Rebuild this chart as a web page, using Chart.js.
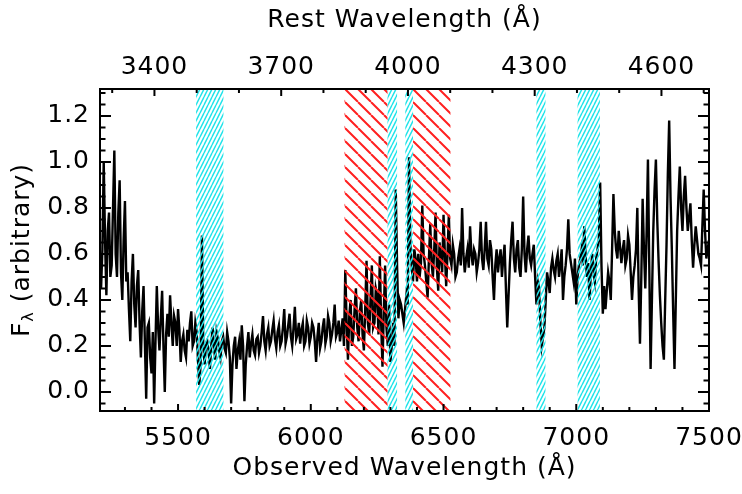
<!DOCTYPE html>
<html>
<head>
<meta charset="utf-8">
<script src="https://cdn.jsdelivr.net/npm/chart.js@4.4.1/dist/chart.umd.min.js"></script>
<style>
  html, body { margin: 0; padding: 0; background: #fff; }
</style>
</head>
<body>
<canvas id="spec" width="742" height="494"></canvas>
<script>
// observed-frame spectrum on a 5 A grid starting at 5210 A
const waveStart = 5210;
const waveStep = 5;
const flux = [
  0.45, 0.62, 1.00, 0.66, 0.42, 0.70, 0.78, 0.50, 0.55, 0.80, 1.05, 0.60, 0.50, 0.78, 0.92, 0.52, 0.40, 0.66, 0.83, 0.48,
  0.52, 0.36, 0.22, 0.48, 0.60, 0.38, 0.28, 0.46, 0.53, 0.30, 0.15, 0.35, 0.46, 0.22, -0.03, 0.28, 0.30, 0.15, 0.08, 0.26,
  -0.05, 0.22, 0.46, 0.28, 0.18, 0.32, 0.44, 0.20, 0.00, 0.25, 0.34, 0.24, 0.42, 0.30, 0.20, 0.33, 0.30, 0.20, 0.36, 0.27,
  0.13, 0.22, 0.25, 0.18, 0.15, 0.27, 0.22, 0.30, 0.35, 0.20, 0.22, 0.30, 0.26, 0.14, 0.03, 0.12, 0.68, 0.20, 0.12, 0.20,
  0.22, 0.18, 0.10, 0.20, 0.28, 0.20, 0.14, 0.26, 0.23, 0.18, 0.15, 0.22, 0.24, 0.19, 0.17, 0.26, 0.22, 0.15, -0.05, 0.12,
  0.20, 0.24, 0.10, 0.18, 0.22, 0.14, 0.29, 0.20, -0.04, 0.12, 0.20, 0.26, 0.15, 0.21, 0.25, 0.18, 0.16, 0.23, 0.24, 0.17,
  0.20, 0.26, 0.33, 0.22, 0.18, 0.25, 0.28, 0.20, 0.22, 0.27, 0.31, 0.23, 0.19, 0.26, 0.29, 0.20, 0.22, 0.28, 0.36, 0.21,
  0.24, 0.29, 0.34, 0.24, 0.20, 0.28, 0.37, 0.23, 0.25, 0.30, 0.21, 0.27, 0.30, 0.20, 0.22, 0.31, 0.28, 0.21, 0.24, 0.30,
  0.28, 0.22, 0.13, 0.24, 0.30, 0.19, 0.22, 0.28, 0.32, 0.21, 0.24, 0.33, 0.30, 0.22, 0.25, 0.30, 0.38, 0.24, 0.26, 0.31,
  0.22, 0.27, 0.32, 0.20, 0.53, 0.30, 0.14, 0.33, 0.40, 0.20, 0.24, 0.36, 0.45, 0.28, 0.22, 0.35, 0.40, 0.25, 0.18, 0.36,
  0.57, 0.30, 0.25, 0.40, 0.55, 0.28, 0.30, 0.45, 0.42, 0.25, 0.59, 0.30, 0.11, 0.35, 0.55, 0.28, 0.20, 0.38, 0.13, 0.20,
  0.30, 0.20, 0.88, 0.55, 0.32, 0.40, 0.38, 0.34, 0.30, 0.36, 0.42, 0.38, 1.02, 0.64, 0.55, 0.48, 0.62, 0.58, 0.48, 0.60,
  0.50, 0.56, 0.81, 0.60, 0.55, 0.48, 0.41, 0.58, 0.73, 0.56, 0.50, 0.62, 0.78, 0.54, 0.44, 0.65, 0.58, 0.52, 0.77, 0.60,
  0.46, 0.60, 0.77, 0.58, 0.55, 0.64, 0.60, 0.50, 0.52, 0.58, 0.62, 0.55, 0.80, 0.60, 0.52, 0.58, 0.62, 0.54, 0.72, 0.60,
  0.55, 0.62, 0.60, 0.52, 0.56, 0.62, 0.74, 0.58, 0.53, 0.62, 0.74, 0.58, 0.55, 0.66, 0.62, 0.50, 0.40, 0.55, 0.62, 0.52,
  0.58, 0.62, 0.50, 0.58, 0.64, 0.45, 0.28, 0.42, 0.56, 0.66, 0.74, 0.58, 0.52, 0.62, 0.66, 0.54, 0.50, 0.62, 0.85, 0.60,
  0.52, 0.62, 0.68, 0.58, 0.55, 0.60, 0.64, 0.50, 0.38, 0.48, 0.45, 0.30, 0.20, 0.24, 0.28, 0.40, 0.52, 0.48, 0.43, 0.54,
  0.58, 0.53, 0.50, 0.57, 0.60, 0.50, 0.55, 0.62, 0.40, 0.50, 0.55, 0.62, 0.75, 0.60, 0.56, 0.52, 0.48, 0.58, 0.38, 0.50,
  0.55, 0.58, 0.62, 0.55, 0.72, 0.60, 0.50, 0.56, 0.40, 0.52, 0.60, 0.52, 0.48, 0.58, 0.62, 0.66, 0.91, 0.55, 0.34, 0.46,
  0.36, 0.44, 0.52, 0.48, 0.40, 0.62, 0.86, 0.70, 0.62, 0.58, 0.70, 0.63, 0.56, 0.62, 0.66, 0.55, 0.58, 0.68, 0.64, 0.52,
  0.40, 0.50, 0.55, 0.62, 0.80, 0.45, 0.21, 0.50, 0.84, 0.62, 0.45, 0.70, 1.01, 0.55, 0.10, 0.40, 0.70, 0.88, 1.01, 0.75,
  0.57, 0.42, 0.30, 0.20, 0.14, 0.40, 0.64, 0.95, 1.18, 0.85, 0.62, 0.35, 0.10, 0.40, 0.70, 0.85, 0.98, 0.80, 0.70, 0.85,
  0.94, 0.80, 0.70, 0.76, 0.82, 0.66, 0.54, 0.64, 0.72, 0.66, 0.60, 0.58, 0.55, 0.72, 0.88, 0.70, 0.58, 0.62, 0.66
];

// masked regions (observed A)
const cyanBands = [[5568, 5671], [6289, 6325], [6356, 6385], [6850, 6884], [7005, 7089]];
const redBands = [[6127, 6289], [6385, 6526]];

const obsTicks = [5500, 6000, 6500, 7000, 7500];
const restTicks = [3400, 3700, 4000, 4300, 4600];
const fluxTicks = [0.0, 0.2, 0.4, 0.6, 0.8, 1.0, 1.2];

const onePlusZ = 1.5915;
const obsMin = 5206, obsMax = 7500;
const fluxMin = -0.083, fluxMax = 1.317;

const points = flux.map((f, i) => ({ x: waveStart + i * waveStep, y: f }));

const fontFamily = "'DejaVu Sans', sans-serif";
const fontSize = 25;
const font = { family: fontFamily, size: fontSize };

function makeTile(w, h, draw) {
  const c = document.createElement('canvas');
  c.width = w; c.height = h;
  draw(c.getContext('2d'), w, h);
  return c;
}

const redTile = makeTile(13, 13, (g, w, h) => {
  g.strokeStyle = '#ff2020';
  g.lineWidth = 2;
  g.beginPath();
  for (let k = -1; k <= 1; k++) {
    g.moveTo(k * w, 0);
    g.lineTo(k * w + w, h);
  }
  g.stroke();
});

const cyanTile = makeTile(8, 8, (g, w, h) => {
  g.strokeStyle = '#22e4ea';
  g.lineWidth = 1.5;
  g.beginPath();
  for (let k = -1; k <= 2; k++) {
    g.moveTo(k * 4, h);
    g.lineTo(k * 4 + 4, 0);
  }
  g.stroke();
});

const spacingPlugin = {
  id: 'spacing',
  beforeInit(chart) { chart.ctx.letterSpacing = '1px'; },
  beforeDraw(chart) { chart.ctx.letterSpacing = '1px'; }
};

const bandsPlugin = {
  id: 'bands',
  afterDatasetsDraw(chart) {
    const { ctx, chartArea: a } = chart;
    const xs = chart.scales.x;
    const paint = (bands, tile) => {
      bands.forEach(b => {
        const x0 = xs.getPixelForValue(b[0]);
        const x1 = xs.getPixelForValue(b[1]);
        const pat = ctx.createPattern(tile, 'repeat');
        pat.setTransform(new DOMMatrix().translate(Math.round(x0), a.top));
        ctx.save();
        ctx.fillStyle = pat;
        ctx.fillRect(x0, a.top, x1 - x0, a.bottom - a.top);
        ctx.restore();
      });
    };
    paint(redBands, redTile);
    paint(cyanBands, cyanTile);
  }
};

const framePlugin = {
  id: 'frame',
  afterDraw(chart) {
    const { ctx, chartArea: a, scales } = chart;
    ctx.save();
    ctx.strokeStyle = '#000';
    ctx.lineWidth = 2;
    ctx.strokeRect(a.left, a.top, a.right - a.left, a.bottom - a.top);

    ctx.beginPath();
    // bottom: observed wavelength
    for (let v = 5300; v <= 7400; v += 100) {
      const len = obsTicks.includes(v) ? 7 : 4;
      const px = scales.x.getPixelForValue(v);
      ctx.moveTo(px, a.bottom);
      ctx.lineTo(px, a.bottom - len);
    }
    // top: rest wavelength
    for (let v = 3300; v <= 4700; v += 100) {
      const len = restTicks.includes(v) ? 7 : 4;
      const px = scales.xRest.getPixelForValue(v);
      ctx.moveTo(px, a.top);
      ctx.lineTo(px, a.top + len);
    }
    // left and right: flux
    for (let k = -1; k <= 26; k++) {
      const len = k % 4 === 0 ? 11 : 5.5;
      const py = scales.y.getPixelForValue(k * 0.05);
      ctx.moveTo(a.left, py);
      ctx.lineTo(a.left + len, py);
      ctx.moveTo(a.right, py);
      ctx.lineTo(a.right - len, py);
    }
    ctx.stroke();

    // y title: F_lambda (arbitrary)
    ctx.fillStyle = '#000';
    ctx.translate(21, (a.top + a.bottom) / 2);
    ctx.rotate(-Math.PI / 2);
    ctx.textBaseline = 'alphabetic';
    const big = fontSize + 'px ' + fontFamily, small = '16px ' + fontFamily;
    ctx.font = big;
    const wF = ctx.measureText('F').width;
    const wRest = ctx.measureText(' (arbitrary)').width;
    ctx.font = small;
    const wL = ctx.measureText('λ').width;
    let tx = -(wF + wL + wRest) / 2;
    ctx.font = big;
    ctx.fillText('F', tx, 8);
    tx += wF;
    ctx.font = small;
    ctx.fillText('λ', tx, 12);
    tx += wL;
    ctx.font = big;
    ctx.fillText(' (arbitrary)', tx, 8);
    ctx.restore();
  }
};

new Chart(document.getElementById('spec'), {
  type: 'line',
  data: {
    datasets: [{
      data: points,
      xAxisID: 'x',
      yAxisID: 'y',
      borderColor: '#000',
      borderWidth: 2.4,
      pointRadius: 0,
      tension: 0,
      fill: false
    }]
  },
  options: {
    responsive: false,
    animation: false,
    events: [],
    layout: { padding: 0 },
    plugins: { legend: { display: false }, tooltip: { enabled: false } },
    scales: {
      x: {
        type: 'linear', position: 'bottom', min: obsMin, max: obsMax,
        grid: { display: false, drawTicks: false }, border: { display: false },
        afterBuildTicks: s => { s.ticks = obsTicks.map(v => ({ value: v })); },
        afterFit: s => { s.height = 83; s.paddingLeft = 0; s.paddingRight = 33; },
        ticks: { color: '#000', font, padding: 12, maxRotation: 0, autoSkip: false, callback: v => String(v) },
        title: { display: true, text: 'Observed Wavelength (Å)', color: '#000', font, padding: { top: 0, bottom: 11 } }
      },
      xRest: {
        type: 'linear', position: 'top', min: obsMin / onePlusZ, max: obsMax / onePlusZ,
        grid: { display: false, drawTicks: false }, border: { display: false },
        afterBuildTicks: s => { s.ticks = restTicks.map(v => ({ value: v })); },
        afterFit: s => { s.height = 89; s.paddingLeft = 0; s.paddingRight = 0; },
        ticks: { color: '#000', font, padding: 7, maxRotation: 0, autoSkip: false, callback: v => String(v) },
        title: { display: true, text: 'Rest Wavelength (Å)', color: '#000', font, padding: { top: 5, bottom: 0 } }
      },
      y: {
        type: 'linear', position: 'left', min: fluxMin, max: fluxMax,
        grid: { display: false, drawTicks: false }, border: { display: false },
        afterBuildTicks: s => { s.ticks = fluxTicks.map(v => ({ value: v })); },
        afterFit: s => { s.width = 100; },
        ticks: { color: '#000', font, padding: 10, autoSkip: false, callback: v => v.toFixed(1) }
      }
    }
  },
  plugins: [spacingPlugin, bandsPlugin, framePlugin]
});
</script>
</body>
</html>
